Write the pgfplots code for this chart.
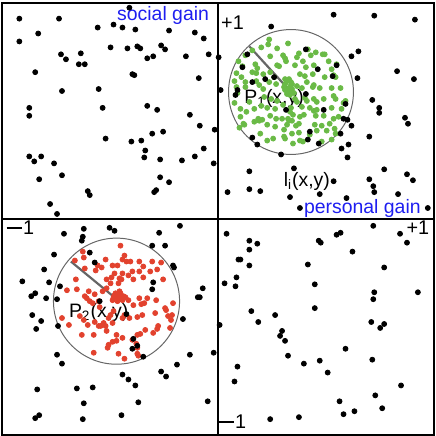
\documentclass[border=0pt]{standalone}
\usepackage{pgfplots}
\pgfplotsset{compat=1.18}
\usepackage{fontspec}
\setmainfont{Liberation Sans}
\definecolor{dotgreen}{RGB}{106,186,70}
\definecolor{dotred}{RGB}{226,66,46}
\definecolor{gainblue}{RGB}{30,30,240}
\newcommand{\longminus}{\rule[0.3em]{0.78em}{0.11em}\kern0.05em}

% points in picture pixels (0..436), y grows downward
\pgfplotstableread{
x y
18 16
58 16
129 5
37 31
97 25
113 22
122 25
135 27
169 28
195 30
204 36
18 39
110 45
127 46
137 44
140 46
161 43
165 47
60 52
65 57
80 51
78 62
84 62
147 56
153 54
186 54
209 52
219 55
34 70
132 72
134 73
199 76
61 89
98 87
28 106
28 114
102 106
147 104
157 108
190 113
200 124
215 128
105 137
131 140
141 139
152 132
163 130
204 147
28 155
33 160
40 155
53 162
145 149
144 156
160 158
182 159
195 155
214 162
38 178
61 174
160 176
169 181
87 190
89 194
154 191
156 189
49 203
56 213
335 12
376 13
417 17
272 24
307 47
353 54
360 49
338 63
334 74
319 67
399 69
359 76
416 77
221 88
253 80
266 77
275 75
248 52
243 65
238 88
236 93
307 92
287 108
325 108
347 102
374 98
381 106
381 111
345 117
349 118
353 124
407 116
410 122
253 136
258 143
311 130
309 138
320 142
342 132
343 147
350 143
371 135
282 153
349 156
250 170
295 167
386 168
409 173
371 178
415 179
335 180
250 188
261 190
228 191
291 196
321 193
375 185
376 191
400 193
348 197
301 207
430 207
63 233
83 228
82 236
81 240
109 227
114 230
159 232
180 225
152 245
165 245
89 252
53 254
94 262
43 269
173 265
174 267
21 281
48 282
59 286
153 282
152 289
34 293
30 296
45 298
56 299
203 288
200 297
198 297
99 301
126 314
31 315
40 321
57 326
35 329
183 319
133 339
132 349
137 346
56 355
61 364
143 357
190 355
214 353
177 365
161 372
166 377
122 375
128 380
135 386
76 389
92 388
36 390
83 404
138 403
208 402
34 419
38 416
82 420
121 416
227 233
250 240
250 249
258 243
239 259
241 259
250 265
237 277
236 286
225 283
320 240
322 242
338 234
342 232
375 225
402 233
409 242
354 251
309 264
386 267
316 284
376 292
375 299
420 292
252 311
316 308
276 315
259 322
220 325
283 331
281 336
286 341
373 322
382 328
386 324
347 349
289 356
305 364
321 361
374 360
329 373
238 367
235 382
403 386
377 396
341 402
345 415
356 412
384 409
271 420
300 418
}\blackpts

\pgfplotstableread{
x y
270 37
269 42
289 41
278 46
262 45
253 48
246 53
239 59
309 47
300 51
317 50
324 52
326 52
312 53
284 53
286 56
298 55
271 54
256 62
258 66
243 64
278 63
280 64
287 59
296 63
304 59
307 65
315 63
330 59
338 62
333 67
253 70
257 71
237 71
242 75
264 72
271 70
275 75
286 77
288 79
290 77
292 80
286 82
301 72
306 74
314 72
326 75
335 73
337 75
235 79
246 80
237 85
246 85
257 79
260 83
264 87
270 80
277 82
293 82
298 84
303 86
308 80
315 83
314 85
321 86
333 86
335 94
342 86
238 91
250 100
265 95
272 97
278 99
289 87
293 90
291 93
296 97
298 100
306 96
308 99
315 97
318 100
325 97
337 97
345 101
347 99
235 101
241 107
255 107
262 104
268 106
276 107
284 103
292 106
303 105
311 106
315 109
318 108
333 106
343 107
247 110
291 110
294 113
241 115
259 117
260 119
263 118
271 114
277 117
283 117
289 117
290 119
288 123
293 119
301 115
305 113
317 114
325 114
335 117
340 115
244 122
245 123
255 120
268 123
276 125
285 128
297 124
300 122
316 123
323 124
331 122
336 127
240 126
261 132
285 135
293 132
300 131
318 129
328 129
337 132
268 139
274 137
286 137
301 139
304 140
311 133
323 140
333 138
294 142
286 88
290 86
291 89
293 87
288 92
295 91
285 85
292 83
}\greenpts

\pgfplotstableread{
x y
120 245
82 251
83 257
74 260
124 255
122 259
126 261
105 259
97 265
101 267
95 270
84 268
112 265
117 265
130 261
139 261
152 261
161 262
143 266
139 271
132 271
75 279
106 279
111 277
114 273
122 273
119 278
128 275
133 279
143 277
150 271
157 269
163 279
66 290
76 289
88 291
94 294
102 291
106 288
110 283
118 283
121 279
115 293
117 295
119 298
113 297
120 293
122 300
117 301
112 300
123 296
119 291
116 297
114 295
84 296
86 298
89 301
92 303
98 301
125 297
128 300
133 305
139 298
141 304
144 303
147 298
156 300
173 303
166 310
165 308
168 316
172 315
171 320
155 313
142 315
137 317
129 318
124 315
122 318
61 318
68 325
79 316
83 320
87 325
94 322
98 326
100 326
103 323
105 326
108 318
110 315
113 311
99 307
112 323
158 326
170 328
81 335
93 335
106 331
116 335
137 335
140 334
145 330
153 333
157 329
108 345
112 342
116 341
122 338
132 340
136 344
137 348
137 354
138 356
93 353
118 354
124 359
107 348
}\redpts

\begin{document}
\begin{tikzpicture}
\begin{axis}[
    scale only axis,
    width=218pt, height=218pt,
    xmin=0, xmax=436, ymin=0, ymax=436,
    y dir=reverse,
    xtick=\empty, ytick=\empty,
    axis line style={line width=1pt},
    clip=false,
]
% quadrant dividers
\draw[line width=1pt] (axis cs:218,0) -- (axis cs:218,436);
\draw[line width=1pt] (axis cs:0,218) -- (axis cs:436,218);

\addplot[only marks, mark=*, mark size=1.25pt, draw=none, fill=dotgreen, mark options={draw=dotgreen}] table {\greenpts};
\addplot[only marks, mark=*, mark size=1.25pt, draw=none, fill=dotred, mark options={draw=dotred}] table {\redpts};
\addplot[only marks, mark=*, mark size=1.25pt, black] table {\blackpts};

% neighbourhood circles and radii
\draw[black!60, line width=0.5pt] (axis cs:292,90) circle[radius=31.5pt];
\draw[black!60, line width=1.1pt] (axis cs:250,44) -- (axis cs:292,90);
\draw[black!60, line width=0.5pt] (axis cs:116,301) circle[radius=31.8pt];
\draw[black!60, line width=1.1pt] (axis cs:70,261) -- (axis cs:115,298);

\node[font=\fontsize{9.8}{11}\selectfont, text=gainblue] at (axis cs:163,13) {social gain};
\node[font=\fontsize{9.8}{11}\selectfont, text=gainblue] at (axis cs:364,207) {personal gain};
\node[font=\fontsize{10}{11}\selectfont] at (axis cs:233,20) {+1};
\node[font=\fontsize{10}{11}\selectfont] at (axis cs:19,227) {\longminus1};
\node[font=\fontsize{10}{11}\selectfont] at (axis cs:420,227) {+1};
\node[font=\fontsize{10}{11}\selectfont] at (axis cs:233,423) {\longminus1};
\node[font=\fontsize{9.8}{11}\selectfont] at (axis cs:275,97) {P\textsubscript{1}(x,y)};
\node[font=\fontsize{9.8}{11}\selectfont] at (axis cs:98,312) {P\textsubscript{2}(x,y)};
\node[font=\fontsize{9.8}{11}\selectfont] at (axis cs:308,180) {l\textsubscript{i}(x,y)};
\end{axis}
\end{tikzpicture}
\end{document}
